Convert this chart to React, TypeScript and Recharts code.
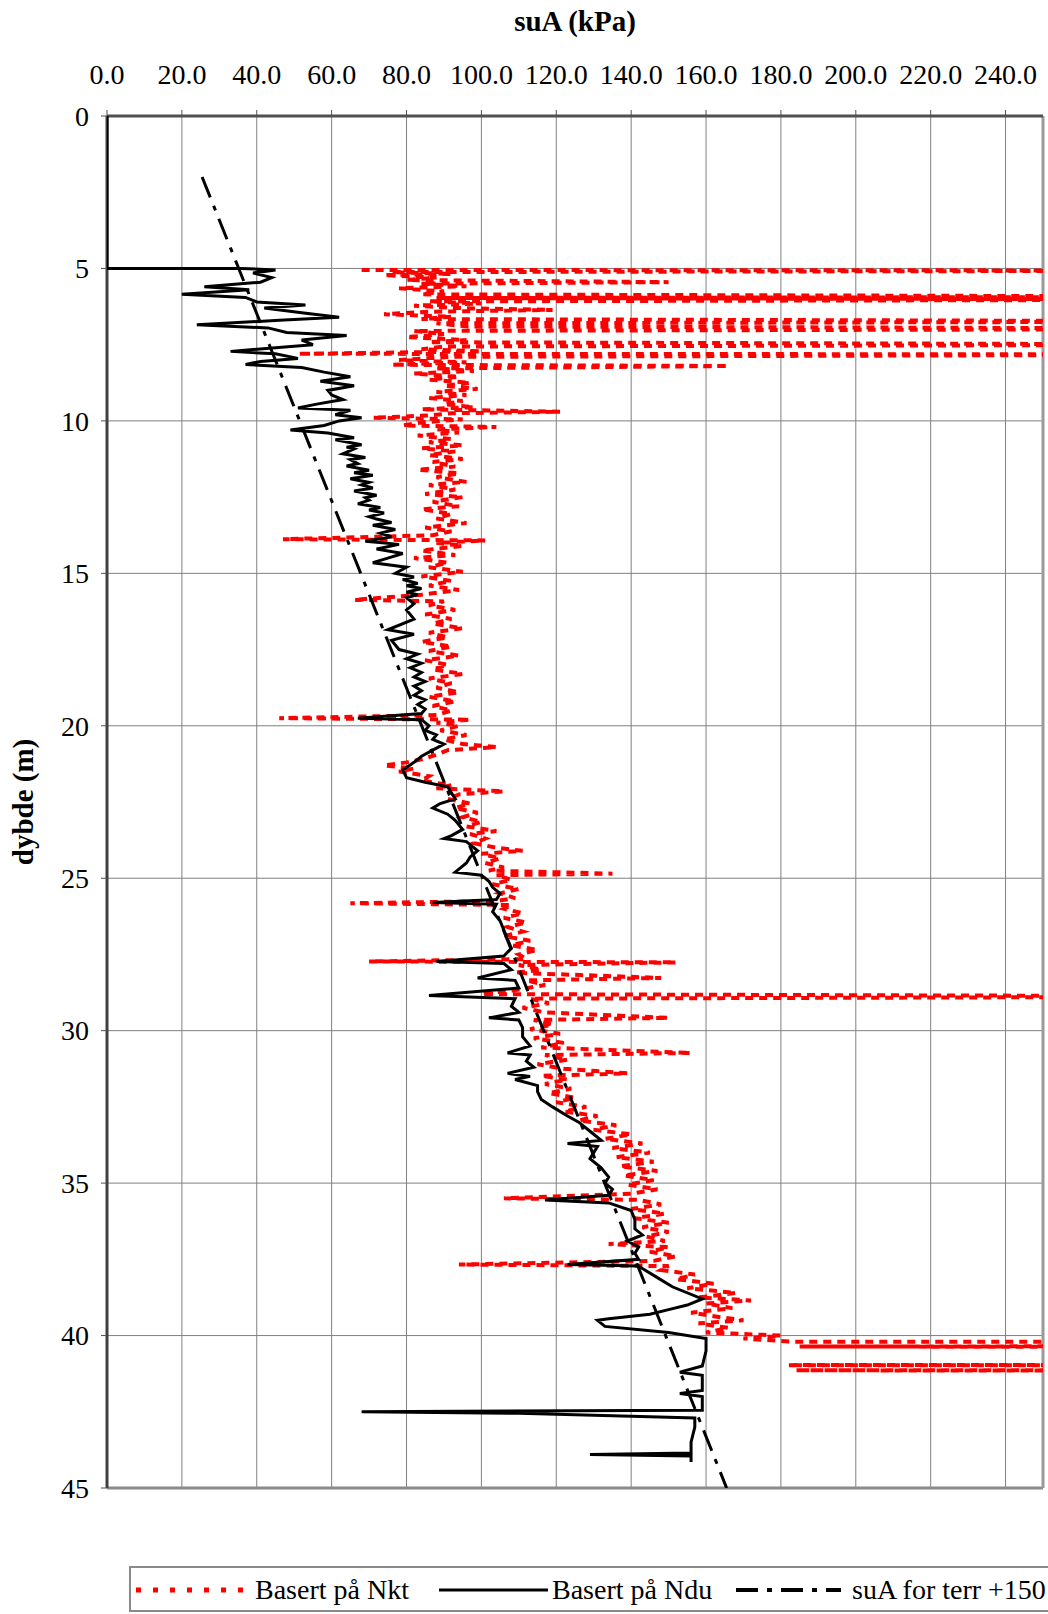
import {
  ScatterChart,
  Scatter,
  XAxis,
  YAxis,
  CartesianGrid,
  ReferenceLine,
  Label,
} from "recharts";

// depth (m), suA (kPa)
const nktProfile: [number, number][] = [
  [5.05, 68], [5.07, 320], [5.12, 76], [5.18, 92], [5.22, 74], [5.3, 88], [5.38, 80],
  [5.45, 150], [5.5, 84], [5.58, 96], [5.65, 78], [5.75, 90], [5.85, 84], [5.93, 320],
  [5.97, 88], [6.02, 320], [6.08, 86], [6.15, 100], [6.22, 82], [6.3, 94], [6.36, 119],
  [6.42, 86], [6.5, 74], [6.58, 92], [6.66, 84], [6.74, 320], [6.8, 88], [6.9, 96],
  [6.98, 320], [7.05, 82], [7.15, 90], [7.25, 80], [7.35, 96], [7.42, 86], [7.5, 320],
  [7.56, 90], [7.65, 84], [7.72, 100], [7.8, 51], [7.82, 320], [7.9, 92], [8.0, 78],
  [8.08, 96], [8.16, 76], [8.2, 166], [8.28, 88], [8.36, 98], [8.45, 82], [8.55, 94],
  [8.65, 86], [8.75, 97], [8.85, 90], [8.95, 99], [9.05, 88], [9.15, 96], [9.25, 86],
  [9.35, 95], [9.45, 90], [9.55, 98], [9.62, 84], [9.7, 121], [9.75, 92], [9.82, 86],
  [9.9, 71], [9.95, 95], [10.05, 84], [10.15, 79], [10.2, 104], [10.28, 88], [10.38, 94],
  [10.48, 83], [10.6, 92], [10.7, 86], [10.8, 95], [10.9, 84], [11.0, 93], [11.12, 86],
  [11.25, 95], [11.35, 87], [11.5, 93], [11.6, 83], [11.72, 94], [11.85, 88], [12.0, 96],
  [12.1, 86], [12.25, 93], [12.4, 85], [12.5, 95], [12.65, 87], [12.8, 94], [12.9, 84],
  [13.05, 92], [13.2, 88], [13.35, 96], [13.5, 85], [13.62, 92], [13.75, 87], [13.88, 47],
  [13.92, 101], [14.0, 88], [14.1, 95], [14.25, 84], [14.4, 93], [14.5, 82], [14.65, 91],
  [14.8, 86], [14.95, 95], [15.1, 84], [15.25, 92], [15.4, 86], [15.55, 94], [15.7, 84],
  [15.87, 66], [15.92, 90], [16.05, 86], [16.2, 93], [16.35, 85], [16.5, 92], [16.65, 87],
  [16.8, 95], [16.95, 86], [17.1, 91], [17.25, 84], [17.4, 92], [17.55, 86], [17.7, 94],
  [17.85, 85], [18.0, 91], [18.15, 87], [18.3, 95], [18.45, 86], [18.6, 92], [18.75, 88],
  [18.9, 94], [19.05, 86], [19.2, 93], [19.35, 87], [19.5, 92], [19.65, 88], [19.75, 46],
  [19.8, 97], [19.9, 88], [20.0, 94], [20.15, 89], [20.3, 96], [20.45, 90], [20.6, 95],
  [20.7, 104], [20.8, 91], [20.95, 88], [21.1, 84], [21.2, 80], [21.3, 74], [21.4, 82],
  [21.5, 78], [21.65, 86], [21.8, 84], [21.95, 92], [22.05, 88], [22.15, 106], [22.25, 94],
  [22.4, 91], [22.55, 97], [22.7, 93], [22.85, 99], [23.0, 95], [23.15, 100], [23.3, 96],
  [23.45, 104], [23.55, 97], [23.7, 101], [23.85, 98], [24.0, 104], [24.1, 111], [24.2, 100],
  [24.35, 105], [24.5, 101], [24.65, 106], [24.75, 102], [24.85, 135], [24.9, 104],
  [25.05, 108], [25.2, 103], [25.35, 110], [25.5, 105], [25.65, 109], [25.75, 104],
  [25.82, 65], [25.88, 108], [26.0, 106], [26.15, 111], [26.3, 106], [26.45, 112],
  [26.6, 107], [26.75, 111], [26.9, 106], [27.05, 113], [27.2, 108], [27.35, 115],
  [27.5, 110], [27.65, 112], [27.73, 70], [27.76, 152], [27.85, 110], [28.0, 116],
  [28.1, 109], [28.27, 148], [28.35, 112], [28.5, 117], [28.65, 110], [28.8, 100],
  [28.88, 320], [28.95, 113], [29.1, 118], [29.25, 111], [29.4, 117], [29.58, 150],
  [29.65, 114], [29.8, 119], [29.95, 113], [30.1, 121], [30.25, 114], [30.4, 122],
  [30.55, 116], [30.73, 156], [30.8, 117], [30.95, 123], [31.1, 115], [31.25, 122],
  [31.4, 139], [31.48, 116], [31.6, 123], [31.75, 117], [31.9, 124], [32.05, 118],
  [32.2, 125], [32.35, 120], [32.5, 128], [32.65, 122], [32.8, 131], [32.95, 126],
  [33.1, 136], [33.25, 130], [33.4, 140], [33.55, 133], [33.7, 143], [33.85, 135],
  [34.0, 145], [34.15, 136], [34.3, 146], [34.45, 137], [34.6, 147], [34.75, 138],
  [34.9, 146], [35.05, 139], [35.2, 147], [35.35, 140], [35.5, 106], [35.55, 142],
  [35.7, 148], [35.85, 140], [36.0, 149], [36.15, 141], [36.3, 150], [36.45, 143],
  [36.6, 150], [36.75, 144], [36.9, 149], [37.0, 134], [37.1, 150], [37.25, 145],
  [37.4, 152], [37.55, 146], [37.67, 94], [37.72, 150], [37.85, 148], [38.0, 157],
  [38.15, 152], [38.3, 162], [38.45, 155], [38.6, 168], [38.75, 158], [38.85, 172],
  [38.95, 160], [39.1, 167], [39.25, 156], [39.4, 164], [39.5, 170], [39.6, 158],
  [39.75, 166], [39.9, 160], [40.0, 180], [40.1, 170], [40.2, 183], [40.22, 400],
  [40.34, 400], [40.36, 185], [40.38, 400], [40.95, 400], [40.97, 182], [40.99, 400],
  [41.12, 400], [41.14, 184], [41.16, 400],
];

const nduProfile: [number, number][] = [
  [0, 0], [5.0, 0], [5.0, 36], [5.05, 45], [5.15, 39], [5.3, 44], [5.45, 41], [5.6, 26],
  [5.7, 38], [5.85, 20], [5.95, 37], [6.1, 40], [6.2, 53], [6.3, 42], [6.45, 52], [6.6, 62],
  [6.7, 46], [6.85, 24], [6.95, 43], [7.1, 48], [7.2, 64], [7.35, 52], [7.5, 55], [7.6, 45],
  [7.72, 33], [7.8, 45], [7.95, 51], [8.05, 41], [8.15, 37], [8.25, 52], [8.4, 58],
  [8.55, 65], [8.7, 57], [8.85, 66], [9.0, 59], [9.15, 60], [9.3, 63], [9.45, 56],
  [9.58, 51], [9.65, 65], [9.8, 61], [9.9, 68], [10.0, 62], [10.15, 58], [10.3, 49],
  [10.4, 59], [10.55, 66], [10.62, 61], [10.78, 68], [10.86, 64], [10.92, 66], [11.08, 63],
  [11.2, 69], [11.27, 65], [11.4, 67], [11.48, 64], [11.62, 70], [11.7, 66], [11.78, 71],
  [11.9, 65], [12.02, 70], [12.1, 68], [12.2, 71], [12.3, 66], [12.44, 72], [12.52, 69],
  [12.6, 70], [12.72, 67], [12.84, 73], [12.92, 70], [13.02, 74], [13.14, 70], [13.22, 72],
  [13.33, 76], [13.42, 71], [13.56, 77], [13.68, 73], [13.8, 76], [13.95, 69],
  [14.05, 78], [14.2, 72], [14.35, 79], [14.5, 75], [14.65, 71], [14.8, 80], [15.0, 77],
  [15.12, 82], [15.2, 79], [15.33, 83], [15.41, 80], [15.5, 84], [15.62, 80], [15.7, 83],
  [15.8, 80], [16.0, 82], [16.2, 80], [16.5, 82], [16.85, 75], [17.0, 82], [17.2, 76],
  [17.5, 78], [17.65, 83], [17.8, 80], [17.95, 84], [18.1, 81], [18.25, 84], [18.4, 82],
  [18.55, 85], [18.7, 82], [18.85, 84], [19.0, 82], [19.15, 85], [19.3, 83], [19.45, 85],
  [19.6, 84], [19.75, 67], [19.8, 84], [20.0, 86], [20.15, 85], [20.3, 88], [20.45, 87],
  [20.6, 90], [20.8, 87], [21.0, 84], [21.2, 82], [21.45, 79], [21.7, 80], [21.85, 85],
  [22.0, 91], [22.2, 92], [22.4, 93], [22.55, 89], [22.7, 87], [22.9, 91], [23.1, 93],
  [23.4, 95], [23.6, 92], [23.7, 90], [23.8, 96], [24.1, 99], [24.3, 97], [24.5, 96],
  [24.7, 94], [24.8, 93], [24.9, 100], [25.1, 102], [25.3, 103], [25.5, 105], [25.7, 104],
  [25.8, 87], [25.85, 104], [26.1, 103], [26.4, 105], [26.7, 106], [27.0, 107], [27.3, 108],
  [27.55, 106], [27.73, 88], [27.8, 106], [28.0, 108], [28.27, 99], [28.35, 109], [28.6, 110],
  [28.85, 86], [28.95, 109], [29.2, 108], [29.4, 110], [29.58, 102], [29.65, 110], [29.9, 111],
  [30.2, 111], [30.5, 113], [30.73, 107], [30.8, 113], [31.0, 112], [31.2, 114], [31.4, 107],
  [31.5, 113], [31.6, 109], [31.8, 115], [32.0, 115], [32.26, 116], [32.5, 119], [32.8, 123],
  [33.0, 126], [33.3, 129], [33.6, 132], [33.7, 123], [33.8, 131], [34.0, 130], [34.2, 129],
  [34.5, 132], [34.8, 134], [35.0, 133], [35.2, 135], [35.4, 134], [35.55, 117], [35.65, 134],
  [35.9, 140], [36.2, 141], [36.5, 141], [36.7, 143], [36.9, 139], [37.1, 142], [37.3, 141],
  [37.5, 142], [37.67, 123], [37.72, 142], [37.8, 143], [38.1, 147], [38.4, 151], [38.8, 159],
  [39.0, 155], [39.15, 150], [39.3, 145], [39.45, 134], [39.5, 131], [39.7, 133], [39.9, 150],
  [40.1, 160], [40.5, 160], [41.0, 159], [41.2, 153], [41.3, 159], [41.8, 159], [41.9, 153],
  [42.0, 159], [42.45, 159], [42.5, 68], [42.55, 110], [42.65, 140], [42.7, 157], [43.0, 157],
  [43.5, 156], [43.85, 156], [43.9, 129], [43.95, 156], [44.15, 156],
];

const terrainLine: [number, number][] = [
  [2.0, 25.4],
  [45.0, 165.5],
];

const suaTicks = [0, 20, 40, 60, 80, 100, 120, 140, 160, 180, 200, 220, 240];
const depthTicks = [0, 5, 10, 15, 20, 25, 30, 35, 40, 45];

const toPoints = (rows: [number, number][]) =>
  rows.map(([depth, suA]) => ({ depth, suA }));

const FONT = "'Liberation Serif', 'Times New Roman', serif";
const RED_DASH = "8 6";
const DASH_DOT = "22 9 5 9";

const NoDot = () => <g />;

const tickText = { fontFamily: FONT, fontSize: 28 };

const renderSuaTick = (props: any) => (
  <text
    x={props.x}
    y={props.y}
    textAnchor="middle"
    fill="#000"
    style={tickText}
  >
    {Number(props.payload.value).toFixed(1)}
  </text>
);

const renderDepthTick = (props: any) => (
  <text
    x={props.x}
    y={props.y}
    dy="0.35em"
    textAnchor="end"
    fill="#000"
    style={tickText}
  >
    {props.payload.value}
  </text>
);

const renderTitle = (props: any) => {
  const vb = props.viewBox || { x: 107, width: 936 };
  return (
    <text
      x={vb.x + vb.width / 2}
      y={31}
      textAnchor="middle"
      fill="#000"
      style={{ fontFamily: FONT, fontWeight: "bold", fontSize: 29 }}
    >
      suA (kPa)
    </text>
  );
};

const renderDepthLabel = (props: any) => {
  const vb = props.viewBox || { y: 116, height: 1372 };
  const cy = vb.y + vb.height / 2;
  return (
    <text
      transform={`translate(33, ${cy}) rotate(-90)`}
      textAnchor="middle"
      fill="#000"
      style={{ fontFamily: FONT, fontWeight: "bold", fontSize: 29 }}
    >
      dybde (m)
    </text>
  );
};

function LegendBox() {
  const text = {
    position: "absolute" as const,
    top: 4,
    fontFamily: FONT,
    fontSize: 28,
    color: "#000",
    whiteSpace: "nowrap" as const,
    lineHeight: "36px",
  };
  return (
    <div
      style={{
        position: "absolute",
        left: 129,
        top: 1566,
        width: 1000,
        height: 42,
        border: "2px solid #8a8a8a",
        background: "#fff",
      }}
    >
      <svg width={1000} height={42} style={{ position: "absolute", left: 0, top: 0 }}>
        <line x1={5} x2={118} y1={22} y2={22} stroke="#ff0000" strokeWidth={5} strokeDasharray="5 12" />
        <line x1={308} x2={417} y1={22} y2={22} stroke="#000" strokeWidth={3} />
        <line x1={605} x2={710} y1={22} y2={22} stroke="#000" strokeWidth={4} strokeDasharray={DASH_DOT} />
      </svg>
      <span style={{ ...text, left: 124 }}>Basert på Nkt</span>
      <span style={{ ...text, left: 421 }}>Basert på Ndu</span>
      <span style={{ ...text, left: 721 }}>suA for terr +150</span>
    </div>
  );
}

export default function App() {
  return (
    <div
      style={{
        position: "absolute",
        left: 0,
        top: 0,
        width: 1048,
        height: 1614,
        overflow: "hidden",
        background: "#fff",
      }}
    >
      <ScatterChart
        width={1048}
        height={1530}
        margin={{ top: 56, right: 5, bottom: 42, left: 0 }}
        style={{ fontFamily: FONT }}
      >
        <CartesianGrid stroke="#808080" strokeWidth={1} />
        <XAxis
          type="number"
          dataKey="suA"
          orientation="top"
          domain={[0, 250]}
          allowDataOverflow
          ticks={suaTicks}
          height={60}
          tickSize={6}
          tickMargin={26}
          tick={renderSuaTick}
          axisLine={{ stroke: "#505050", strokeWidth: 3 }}
          tickLine={{ stroke: "#505050" }}
        >
          <Label content={renderTitle} />
        </XAxis>
        <YAxis
          type="number"
          dataKey="depth"
          domain={[0, 45]}
          reversed
          allowDataOverflow
          ticks={depthTicks}
          width={107}
          tickSize={6}
          tickMargin={12}
          tick={renderDepthTick}
          axisLine={{ stroke: "#404040", strokeWidth: 3 }}
          tickLine={{ stroke: "#505050" }}
        >
          <Label content={renderDepthLabel} />
        </YAxis>
        <ReferenceLine y={45} stroke="#8a8a8a" strokeWidth={3} />
        <ReferenceLine x={250} stroke="#9a9a9a" strokeWidth={3} />
        <Scatter
          name="Basert på Nkt"
          data={toPoints(nktProfile)}
          fill="none"
          shape={NoDot}
          line={{ stroke: "#ff0000", strokeWidth: 4, strokeDasharray: RED_DASH }}
          lineType="joint"
          isAnimationActive={false}
        />
        <Scatter
          name="Basert på Ndu"
          data={toPoints(nduProfile)}
          fill="none"
          shape={NoDot}
          line={{ stroke: "#000", strokeWidth: 3 }}
          lineType="joint"
          isAnimationActive={false}
        />
        <Scatter
          name="suA for terr +150"
          data={toPoints(terrainLine)}
          fill="none"
          shape={NoDot}
          line={{ stroke: "#000", strokeWidth: 3, strokeDasharray: DASH_DOT }}
          lineType="joint"
          isAnimationActive={false}
        />
      </ScatterChart>
      <LegendBox />
    </div>
  );
}
